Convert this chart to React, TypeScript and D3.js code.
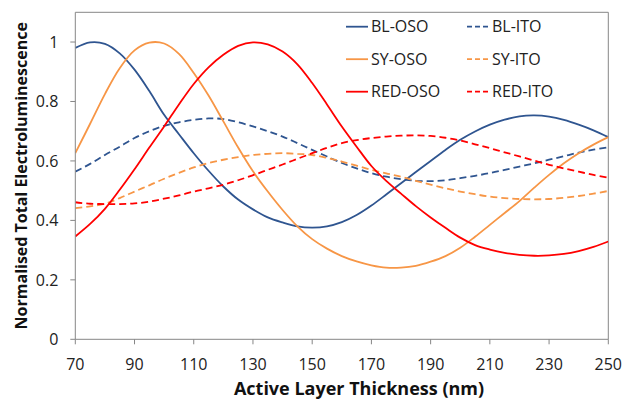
import React from "react";
import * as d3 from "d3";

const thickness = [70, 75, 80, 85, 90, 95, 100, 105, 110, 115, 120, 125, 130, 135, 140, 145, 150, 155, 160, 165, 170, 175, 180, 185, 190, 195, 200, 205, 210, 215, 220, 225, 230, 235, 240, 245, 250];

const blOso = [0.98, 0.999, 0.994, 0.962, 0.907, 0.835, 0.755, 0.69, 0.626, 0.567, 0.514, 0.47, 0.437, 0.41, 0.393, 0.38, 0.376, 0.38, 0.394, 0.418, 0.45, 0.487, 0.525, 0.563, 0.6, 0.637, 0.671, 0.699, 0.722, 0.739, 0.75, 0.753, 0.749, 0.738, 0.722, 0.703, 0.68];
const syOso = [0.626, 0.725, 0.825, 0.912, 0.972, 0.998, 0.995, 0.96, 0.896, 0.82, 0.733, 0.645, 0.565, 0.497, 0.435, 0.38, 0.337, 0.305, 0.28, 0.262, 0.249, 0.241, 0.241, 0.247, 0.261, 0.28, 0.308, 0.345, 0.385, 0.425, 0.465, 0.51, 0.553, 0.592, 0.626, 0.655, 0.68];
const redOso = [0.346, 0.388, 0.439, 0.503, 0.572, 0.645, 0.716, 0.79, 0.859, 0.915, 0.957, 0.987, 0.999, 0.992, 0.968, 0.925, 0.862, 0.79, 0.716, 0.648, 0.583, 0.533, 0.49, 0.448, 0.41, 0.375, 0.342, 0.317, 0.302, 0.291, 0.284, 0.281, 0.282, 0.287, 0.297, 0.311, 0.329];
const blIto = [0.564, 0.59, 0.62, 0.648, 0.677, 0.7, 0.718, 0.73, 0.738, 0.743, 0.741, 0.73, 0.716, 0.7, 0.682, 0.66, 0.637, 0.615, 0.593, 0.575, 0.559, 0.547, 0.539, 0.533, 0.532, 0.535, 0.542, 0.55, 0.559, 0.57, 0.581, 0.592, 0.604, 0.616, 0.628, 0.638, 0.646];
const syIto = [0.441, 0.447, 0.456, 0.475, 0.497, 0.518, 0.54, 0.56, 0.578, 0.593, 0.604, 0.613, 0.62, 0.624, 0.626, 0.624, 0.62, 0.61, 0.598, 0.584, 0.57, 0.558, 0.547, 0.533, 0.52, 0.508, 0.497, 0.488, 0.48, 0.475, 0.472, 0.471, 0.472, 0.476, 0.482, 0.49, 0.499];
const redIto = [0.461, 0.456, 0.455, 0.455, 0.457, 0.463, 0.473, 0.484, 0.497, 0.508, 0.52, 0.535, 0.552, 0.57, 0.588, 0.607, 0.626, 0.644, 0.66, 0.67, 0.677, 0.682, 0.685, 0.686, 0.684, 0.678, 0.669, 0.656, 0.643, 0.629, 0.615, 0.601, 0.587, 0.575, 0.564, 0.553, 0.544];

const xTicks = [70, 90, 110, 130, 150, 170, 190, 210, 230, 250];
const yTicks = [0, 0.2, 0.4, 0.6, 0.8, 1];
const yTickLabels = ["0", "0.2", "0.4", "0.6", "0.8", "1"];

const seriesNames = ["BL-OSO", "BL-ITO", "SY-OSO", "SY-ITO", "RED-OSO", "RED-ITO"];
const seriesValues = [blOso, blIto, syOso, syIto, redOso, redIto];
const BLUE = "#2F5590";
const ORANGE = "#F79646";
const RED = "#FF0000";
const seriesColors = [BLUE, BLUE, ORANGE, ORANGE, RED, RED];
const seriesDashed = [false, true, false, true, false, true];

const W = 626;
const H = 399;
const left = 75.3;
const right = 608.3;
const top = 12.3;
const bottom = 339.3;
const FONT = "'Open Sans', sans-serif";
const AXIS = "#868686";

export default function App() {
  const x = d3.scaleLinear().domain([70, 250]).range([left, right]);
  const y = d3.scaleLinear().domain([0, 1.1]).range([bottom, top]);
  const line = d3
    .line<[number, number]>()
    .x((d) => x(d[0]))
    .y((d) => y(d[1]))
    .curve(d3.curveCatmullRom.alpha(0.5));

  return (
    <svg width={W} height={H} style={{ position: "absolute", left: 0, top: 0 }} fontFamily={FONT}>
      <rect x={0} y={0} width={W} height={H} fill="#fff" />
      <line x1={left} x2={right} y1={top} y2={top} stroke={AXIS} strokeWidth={1} />
      <line x1={right} x2={right} y1={top} y2={bottom} stroke={AXIS} strokeWidth={1} />
      <defs>
        <clipPath id="clip">
          <rect x={left} y={top} width={right - left} height={bottom - top} />
        </clipPath>
      </defs>
      <g clipPath="url(#clip)">
        {seriesValues.map((vals, i) => (
          <path
            key={seriesNames[i]}
            d={line(thickness.map((t, j) => [t, vals[j]] as [number, number])) || ""}
            fill="none"
            stroke={seriesColors[i]}
            strokeWidth={1.8}
            strokeDasharray={seriesDashed[i] ? "7,4" : undefined}
          />
        ))}
      </g>
      <line x1={left} x2={left} y1={top} y2={bottom} stroke={AXIS} strokeWidth={1} />
      <line x1={left} x2={right} y1={bottom} y2={bottom} stroke={AXIS} strokeWidth={1} />
      {yTicks.map((t, i) => (
        <g key={"y" + i}>
          <line x1={left - 5} x2={left} y1={y(t)} y2={y(t)} stroke={AXIS} />
          <text x={left - 17} y={y(t)} dy="0.36em" textAnchor="end" fontSize={16} fill="#222">
            {yTickLabels[i]}
          </text>
        </g>
      ))}
      {xTicks.map((t) => (
        <g key={"x" + t}>
          <line x1={x(t)} x2={x(t)} y1={bottom} y2={bottom + 5} stroke={AXIS} />
          <text x={x(t)} y={364} dy="0.36em" textAnchor="middle" fontSize={16} fill="#222">
            {t}
          </text>
        </g>
      ))}
      <text x={359} y={389} dy="0.36em" textAnchor="middle" fontSize={18} fontWeight="bold" fill="#111">
        Active Layer Thickness (nm)
      </text>
      <text
        transform={`translate(21, ${(top + bottom) / 2}) rotate(-90)`}
        dy="0.36em"
        textAnchor="middle"
        fontSize={16}
        fontWeight="bold"
        fill="#111"
      >
        Normalised Total Electroluminescence
      </text>
      {seriesNames.map((name, i) => {
        const col = i % 2;
        const row = Math.floor(i / 2);
        const lx = col === 0 ? 346 : 467;
        const ly = 26.7 + row * 32.5;
        return (
          <g key={"lg" + name}>
            <line
              x1={lx}
              x2={lx + 22}
              y1={ly}
              y2={ly}
              stroke={seriesColors[i]}
              strokeWidth={1.8}
              strokeDasharray={seriesDashed[i] ? "5,3" : undefined}
            />
            <text x={lx + 25} y={ly} dy="0.36em" fontSize={16} fill="#222">
              {name}
            </text>
          </g>
        );
      })}
    </svg>
  );
}
